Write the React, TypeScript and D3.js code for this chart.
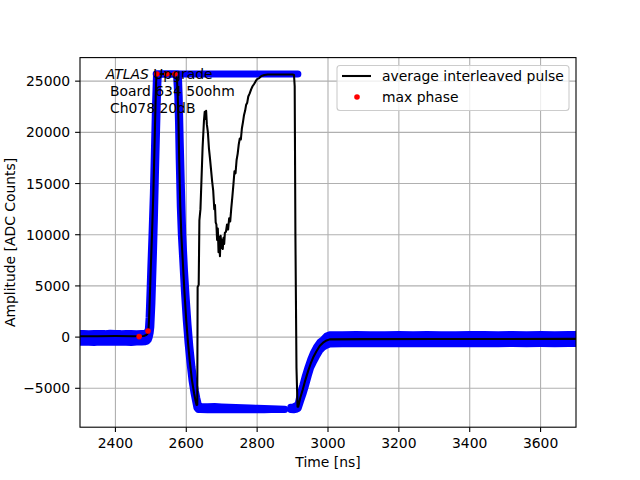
import React from "react";
import * as d3 from "d3";

// ---------- data ----------
const pulseTime = [
  2290, 2350, 2400, 2450, 2480, 2487, 2490, 2493, 2495, 2497.5, 2500, 2503, 2507, 2510, 2513, 2515, 2517,
  2571, 2574, 2576, 2578, 2580, 2583, 2586, 2590, 2595, 2600, 2605, 2610, 2616, 2622, 2626, 2629, 2631,
  2632, 2635, 2637, 2640, 2643, 2646, 2650, 2652, 2654, 2656, 2658, 2661, 2664, 2667, 2670, 2673,
  2676, 2679, 2681, 2683, 2685, 2687, 2689, 2691, 2693, 2695, 2697, 2699, 2701, 2703, 2705, 2707,
  2709, 2712, 2715, 2718, 2721, 2724, 2727, 2730, 2733, 2736, 2739, 2742, 2745, 2748, 2751, 2754,
  2757, 2760, 2763, 2766, 2769, 2772, 2775, 2779, 2783, 2787, 2791, 2796, 2800, 2806, 2812, 2820,
  2830, 2900, 2904, 2906, 2908, 2911, 2914, 2916, 2922, 2929, 2936, 2944, 2951, 2958, 2967, 2977,
  2986, 2996, 3005, 3100, 3300, 3500, 3710,
];
const pulseAmp = [
  80, 90, 100, 90, 110, 200, 300, 500, 1800, 4300, 6900, 9800, 14000, 18200, 22500, 25000, 25700,
  25700, 25000, 23500, 21000, 17300, 12800, 10000, 7500, 4300, 1600, -600, -2400, -4200, -5500, -6200, -6630, -6600,
  4900, 5100, 11400, 12500, 15500, 18500, 21200, 22000, 21300, 22100, 20800, 20000, 18400, 17400, 16300, 15200,
  14300, 12500, 12900, 11200, 11000, 9500, 10600, 8300, 9800, 7900, 9900, 8700, 9500, 8600, 9700, 9100,
  10200, 10300, 11000, 10500, 11600, 11300, 12600, 13700, 14900, 16200, 16000, 17300, 17900, 18800, 19400, 19300,
  20400, 21000, 21700, 22100, 22700, 22900, 23500, 23800, 24200, 24500, 24700, 25000, 25200, 25300, 25500, 25600,
  25650, 25650, 25600, 24500, 10000, -3000, -6800, -6800, -5900, -5100, -4200, -3300, -2600, -2000, -1400, -850,
  -550, -330, -220, -200, -190, -180, -170,
];

// raw samples envelope: [time, low, high]
const rawMain: [number, number, number][] = [
  [2280, -490, 340], [2295, -510, 360], [2310, -480, 350], [2325, -500, 330], [2340, -520, 360],
  [2355, -490, 350], [2370, -500, 340], [2385, -480, 370], [2400, -510, 350], [2415, -490, 340],
  [2430, -500, 360], [2445, -520, 350], [2460, -490, 330], [2474, -480, 360], [2484, -460, 380],
  [2489, -400, 450], [2493, -250, 800], [2495, -50, 1900], [2498, 400, 4800], [2500, 1000, 6900],
  [2503, 3300, 9800], [2507, 7700, 14000], [2510, 11500, 18200], [2513, 16000, 22500],
  [2516, 20000, 25700], [2519, 24000, 25700], [2521, 25700, 25700], [2571, 25700, 25700],
  [2573, 25300, 25700], [2576, 23500, 25700], [2578, 21000, 25300], [2580, 17300, 23500],
  [2583, 12800, 19000], [2586, 10000, 15000], [2590, 7500, 10000], [2595, 4300, 6500],
  [2600, 1600, 3700], [2605, -600, 1200], [2610, -2400, -900], [2616, -4200, -2900],
  [2622, -5500, -4500], [2626, -6200, -5300], [2630, -6900, -6000], [2634, -7080, -6600],
  [2640, -7080, -6780], [2660, -7100, -6800], [2680, -7080, -6790], [2700, -7100, -6820],
  [2720, -7100, -6850], [2740, -7090, -6870], [2760, -7100, -6900], [2780, -7100, -6930],
  [2800, -7100, -6950], [2820, -7090, -6980], [2840, -7080, -7000], [2860, -7070, -7020],
  [2878, -7060, -7040],
];
const rawTop: [number, number, number][] = [
  [2515, 25700, 25700], [2915, 25700, 25700],
];
const rawTail: [number, number, number][] = [
  [2895, -7080, -6850], [2903, -7100, -6820], [2910, -7050, -6700], [2916, -6950, -6500],
  [2922, -6300, -5500], [2929, -5600, -4700], [2936, -4800, -3800], [2944, -3800, -2900],
  [2951, -3000, -2200], [2958, -2500, -1600], [2967, -1900, -1000], [2977, -1300, -500],
  [2986, -1000, -250], [2996, -800, 100], [3005, -680, 220], [3040, -650, 230], [3080, -620, 250],
  [3120, -660, 220], [3160, -640, 240], [3200, -620, 260], [3240, -650, 230], [3280, -630, 250],
  [3320, -660, 240], [3360, -620, 220], [3400, -640, 250], [3440, -630, 260], [3480, -660, 230],
  [3520, -620, 250], [3560, -640, 240], [3600, -630, 260], [3640, -650, 230], [3680, -620, 250],
  [3720, -640, 240],
];

const maxPhaseTime = [2467, 2492, 2517, 2545, 2568];
const maxPhaseAmp = [50, 600, 25700, 25700, 25700];

const xTicks = [2400, 2600, 2800, 3000, 3200, 3400, 3600];
const yTicks = [-5000, 0, 5000, 10000, 15000, 20000, 25000];

// ---------- layout ----------
const W = 640, H = 480;
const L = 80, R = 576, T = 57.6, B = 427.2;
const FONT = "'DejaVu Sans', sans-serif";
const FS = 13.9;
const TICK = 4.9;

export default function App() {
  const x = d3.scaleLinear().domain([2300, 3700]).range([L, R]);
  const y = d3.scaleLinear().domain([-8800, 27300]).range([B, T]);

  const area = d3.area<[number, number, number]>()
    .x((d) => x(d[0]))
    .y0((d) => y(d[1]))
    .y1((d) => y(d[2]));

  const pulse = pulseTime.map((t, i) => [t, pulseAmp[i]] as [number, number]);
  const line = d3.line<[number, number]>().x((d) => x(d[0])).y((d) => y(d[1]));

  const fmt = (v: number) => (v < 0 ? "\u2212" + Math.abs(v) : String(v));

  return (
    <svg width={W} height={H} style={{ position: "absolute", left: 0, top: 0, background: "#fff" }} fontFamily={FONT}>
      <defs>
        <clipPath id="plot">
          <rect x={L} y={T} width={R - L} height={B - T} />
        </clipPath>
      </defs>
      <rect x={0} y={0} width={W} height={H} fill="#fff" />
      {/* grid */}
      {xTicks.map((t) => (
        <line key={"gx" + t} x1={x(t)} x2={x(t)} y1={T} y2={B} stroke="#b0b0b0" strokeWidth={1.1} />
      ))}
      {yTicks.map((t) => (
        <line key={"gy" + t} x1={L} x2={R} y1={y(t)} y2={y(t)} stroke="#b0b0b0" strokeWidth={1.1} />
      ))}
      <g clipPath="url(#plot)">
        {[rawMain, rawTop, rawTail].map((d, i) => (
          <path key={"raw" + i} d={area(d) || ""} fill="#0000ff" stroke="#0000ff" strokeWidth={7}
            strokeLinejoin="round" strokeLinecap="round" />
        ))}
        <path d={line(pulse) || ""} fill="none" stroke="#000" strokeWidth={2.08} strokeLinejoin="round" />
        {maxPhaseTime.map((t, i) => (
          <circle key={"mp" + i} cx={x(t)} cy={y(maxPhaseAmp[i])} r={2.8} fill="#ff0000" />
        ))}
      </g>
      {/* frame */}
      <rect x={L} y={T} width={R - L} height={B - T} fill="none" stroke="#000" strokeWidth={1.1} />
      {/* x ticks */}
      {xTicks.map((t) => (
        <g key={"xt" + t}>
          <line x1={x(t)} x2={x(t)} y1={B} y2={B + TICK} stroke="#000" strokeWidth={1.1} />
          <text x={x(t)} y={B + 20.3} textAnchor="middle" fontSize={FS} fill="#000">{t}</text>
        </g>
      ))}
      {yTicks.map((t) => (
        <g key={"yt" + t}>
          <line x1={L - TICK} x2={L} y1={y(t)} y2={y(t)} stroke="#000" strokeWidth={1.1} />
          <text x={L - 2 * TICK} y={y(t)} dy="0.36em" textAnchor="end" fontSize={FS} fill="#000">{fmt(t)}</text>
        </g>
      ))}
      <text x={(L + R) / 2} y={466.5} textAnchor="middle" fontSize={FS} fill="#000">Time [ns]</text>
      <text transform={`translate(14.8,${(T + B) / 2}) rotate(-90)`} textAnchor="middle" fontSize={FS} fill="#000">
        Amplitude [ADC Counts]
      </text>
      {/* annotation */}
      <text x={105.7} y={79} fontSize={FS} fill="#000">
        <tspan fontStyle="italic">ATLAS</tspan>
        <tspan> Upgrade</tspan>
      </text>
      <text x={110} y={96} fontSize={FS} fill="#000">Board 634 50ohm</text>
      <text x={110} y={112.5} fontSize={FS} fill="#000">Ch078 20dB</text>
      {/* legend */}
      <rect x={337} y={65.5} width={232} height={45} rx={3} fill="#fff" fillOpacity={0.8} stroke="#cccccc" strokeWidth={1.1} />
      <line x1={342} x2={371} y1={76} y2={76} stroke="#000" strokeWidth={2.08} />
      <text x={382} y={76} dy="0.36em" fontSize={FS} fill="#000">average interleaved pulse</text>
      <circle cx={357} cy={97} r={2.8} fill="#ff0000" />
      <text x={382} y={97} dy="0.36em" fontSize={FS} fill="#000">max phase</text>
    </svg>
  );
}
